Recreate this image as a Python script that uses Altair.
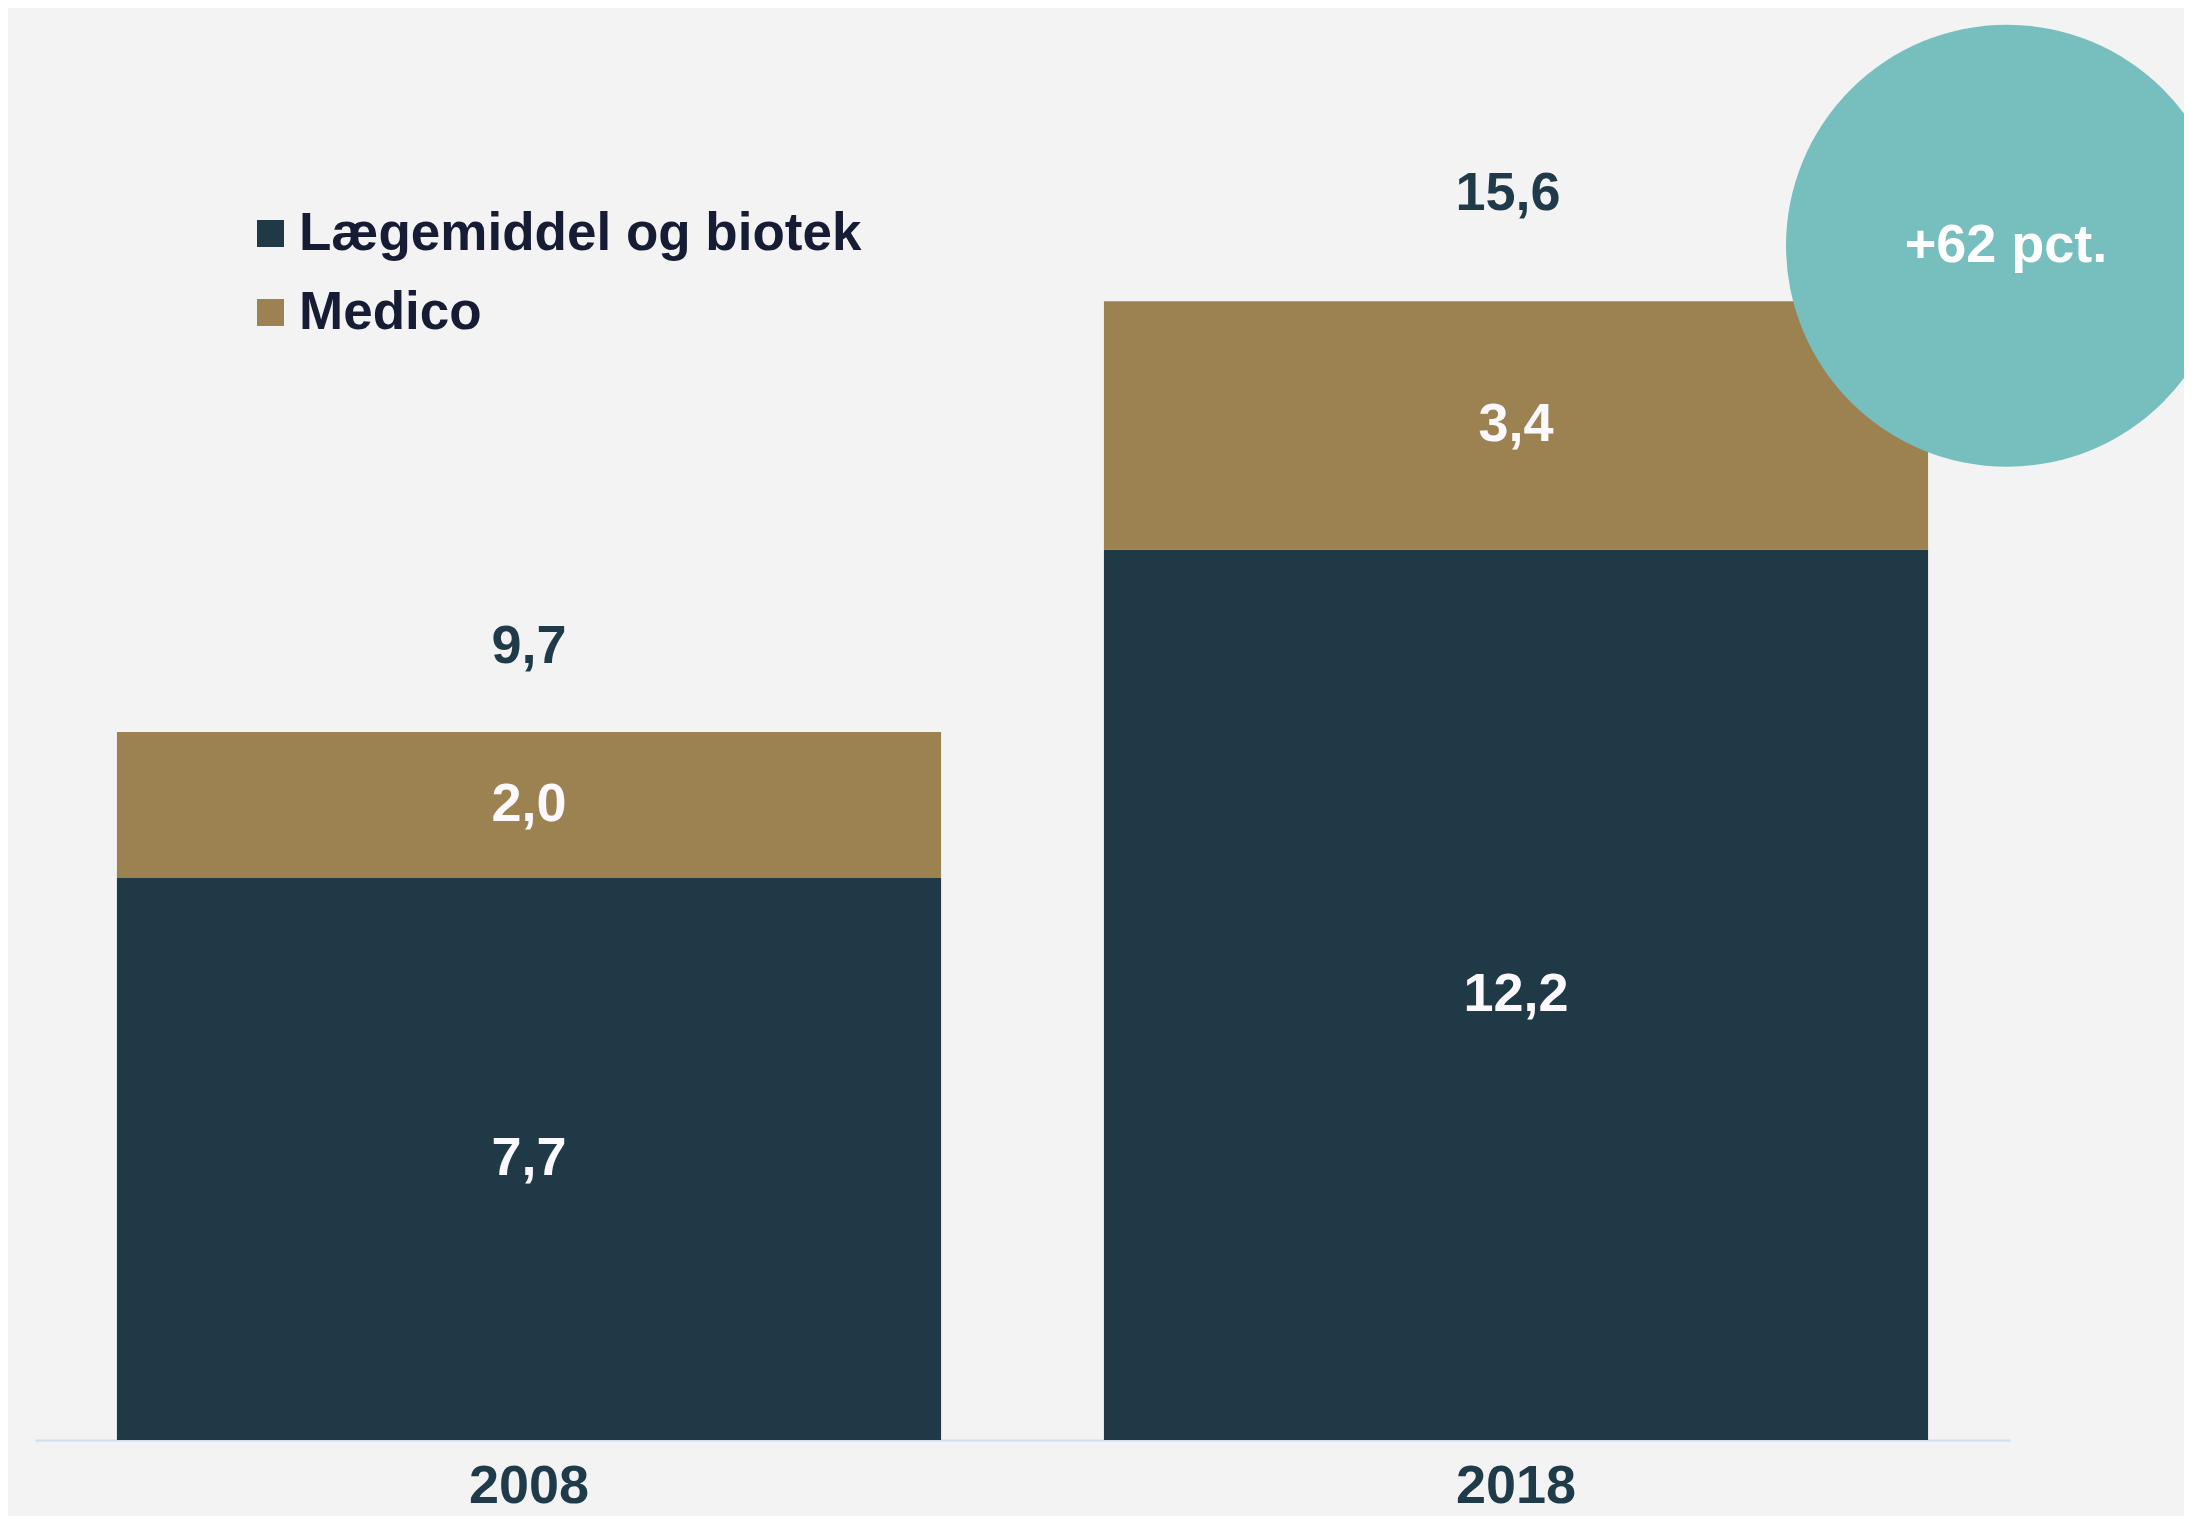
import altair as alt
import pandas as pd

# ---- data ----
years = ["2008", "2018"]
segments = ["Lægemiddel og biotek", "Medico"]
laegemiddel = [7.7, 12.2]
medico = [2.0, 3.4]
totals = [9.7, 15.6]
laeg_labels = ["7,7", "12,2"]
medico_labels = ["2,0", "3,4"]
total_labels = ["9,7", "15,6"]
growth_label = "+62 pct."
growth_y = 16.36  # circle centre, in axis units

colors = ["#1f3a46", "#9c8250"]
bg = "#f3f3f3"
dark_text = "#1f3a48"
legend_text = "#161c33"
circle_color = "#76bfbe"
FONT = "Liberation Sans"
FS = 54

rows = []
for i, y in enumerate(years):
    rows.append({"year": y, "segment": segments[0], "value": laegemiddel[i],
                 "label": laeg_labels[i], "order": 0, "mid": laegemiddel[i] / 2})
    rows.append({"year": y, "segment": segments[1], "value": medico[i],
                 "label": medico_labels[i], "order": 1,
                 "mid": laegemiddel[i] + medico[i] / 2})
df = pd.DataFrame(rows)
df_tot = pd.DataFrame({"year": years, "total": totals, "label": total_labels})
df_circ = pd.DataFrame({"cy": [growth_y], "label": [growth_label]})

yscale = alt.Scale(domain=[0, 1430 / 73], nice=False, zero=True)
xscale = alt.Scale(paddingInner=0.165, paddingOuter=0.083)

x_axis = alt.Axis(title=None, labelAngle=0, ticks=False, grid=False,
                  domainColor="#cfdcec", domainWidth=2,
                  labelFont=FONT, labelFontSize=FS, labelFontWeight="bold",
                  labelColor=dark_text, labelPadding=19)
x_enc = alt.X("year:N", scale=xscale, sort=years, axis=x_axis)

bars = alt.Chart(df).mark_bar().encode(
    x=x_enc,
    y=alt.Y("value:Q", stack="zero", scale=yscale, axis=None),
    color=alt.Color("segment:N",
                    scale=alt.Scale(domain=segments, range=colors),
                    legend=alt.Legend(title=None)),
    order=alt.Order("order:Q"),
)

inner = alt.Chart(df).mark_text(
    font=FONT, fontSize=FS, fontWeight="bold", color="#fbf9fd", baseline="middle"
).encode(
    x=x_enc,
    y=alt.Y("mid:Q", scale=yscale, axis=None),
    text="label:N",
)

tot_a = alt.Chart(df_tot).transform_filter(alt.datum.year == "2008").mark_text(
    font=FONT, fontSize=FS, fontWeight="bold", color=dark_text,
    baseline="alphabetic", dy=-69
).encode(x=x_enc, y=alt.Y("total:Q", scale=yscale, axis=None), text="label:N")

tot_b = alt.Chart(df_tot).transform_filter(alt.datum.year == "2018").mark_text(
    font=FONT, fontSize=FS, fontWeight="bold", color=dark_text,
    baseline="alphabetic", dy=-91, dx=-8
).encode(x=x_enc, y=alt.Y("total:Q", scale=yscale, axis=None), text="label:N")

circle = alt.Chart(df_circ).mark_circle(
    size=442 * 442, color=circle_color, opacity=1, strokeWidth=0
).encode(
    x=alt.value(1972),
    y=alt.Y("cy:Q", scale=yscale, axis=None),
)

circle_text = alt.Chart(df_circ).mark_text(
    font=FONT, fontSize=FS, fontWeight="bold", color="white", baseline="middle"
).encode(
    x=alt.value(1971),
    y=alt.Y("cy:Q", scale=yscale, axis=None),
    text="label:N",
)

chart = alt.layer(bars, inner, tot_a, tot_b, circle, circle_text).properties(
    width=1975,
    height=1430,
    autosize=alt.AutoSizeParams(type="none"),
    padding={"left": 27, "top": 2, "right": 174, "bottom": 76},
    background=bg,
).configure_view(stroke=None).configure_legend(
    orient="none", legendX=209, legendY=197,
    symbolType="square", symbolSize=729, symbolStrokeWidth=0, symbolOpacity=1,
    labelFont=FONT, labelFontSize=53, labelFontWeight="bold",
    labelColor=legend_text, labelOffset=2, rowPadding=25, labelLimit=1000,
)

chart.save("out.html", embed_options={"renderer": "svg", "actions": False})
